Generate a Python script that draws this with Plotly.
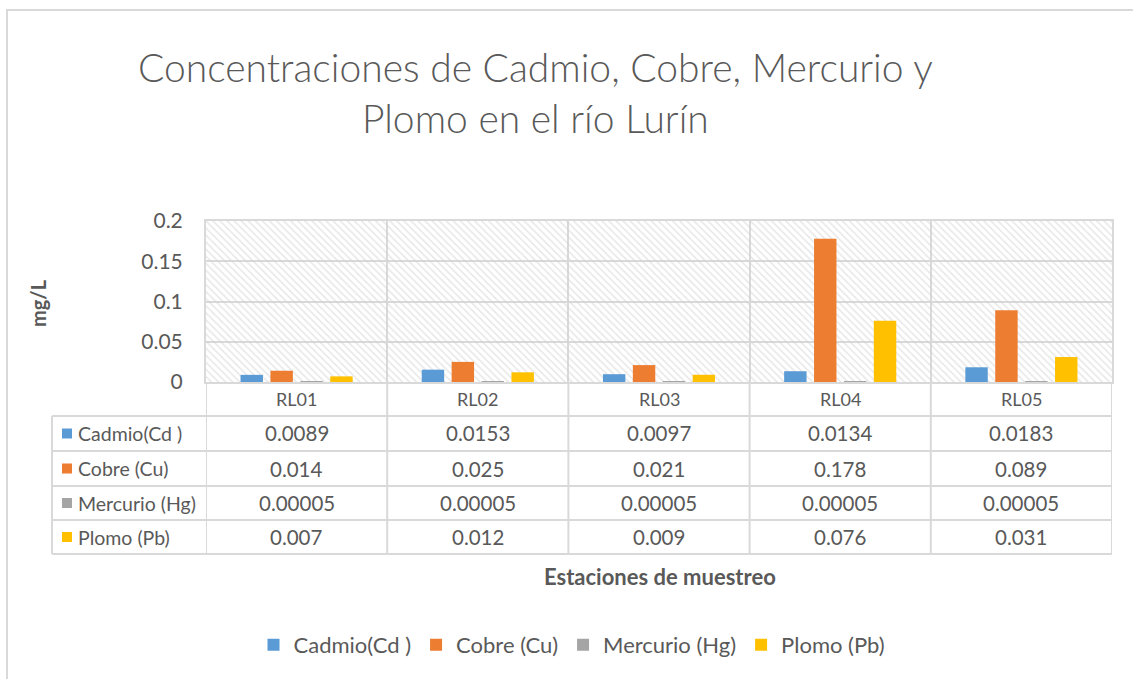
import plotly.graph_objects as go

# ---------------- data ----------------
stations = ["RL01", "RL02", "RL03", "RL04", "RL05"]
cadmio = [0.0089, 0.0153, 0.0097, 0.0134, 0.0183]
cobre = [0.014, 0.025, 0.021, 0.178, 0.089]
mercurio = [0.00005, 0.00005, 0.00005, 0.00005, 0.00005]
plomo = [0.007, 0.012, 0.009, 0.076, 0.031]
series_names = ["Cadmio(Cd )", "Cobre (Cu)", "Mercurio (Hg)", "Plomo (Pb)"]
series_values = [cadmio, cobre, mercurio, plomo]
y_ticks = [0, 0.05, 0.1, 0.15, 0.2]

title_text = "Concentraciones de Cadmio, Cobre, Mercurio y<br>Plomo en el río Lurín"
y_title = "mg/L"
x_title = "Estaciones de muestreo"

# ---------------- style ----------------
W, H = 1133, 679
colors = ["#5B9BD5", "#ED7D31", "#A5A5A5", "#FFC000"]
GRID = "#D9D9D9"
TXT = "#595959"
FONT = "Lato"


def px(x):
    return x / W


def py(y):
    return 1 - y / H


PLOT_L, PLOT_R, PLOT_T, PLOT_B = 206, 1112, 221, 382
TABLE_LEFT = 52
row_lines = [416, 451, 486, 520, 554]

fig = go.Figure()

# hatched plot background (decorative)
fig.add_trace(go.Bar(
    x=[len(stations) / 2], y=[max(y_ticks)], width=[len(stations)],
    xaxis="x", yaxis="y",
    marker=dict(color="rgba(0,0,0,0)", line=dict(width=0),
                pattern=dict(shape="\\", fgcolor="#CFCFCF", bgcolor="rgba(0,0,0,0)",
                             size=5, solidity=0.3, fillmode="overlay")),
    showlegend=False, hoverinfo="skip",
))

for name, vals, c in zip(series_names, series_values, colors):
    fig.add_trace(go.Bar(
        x=stations, y=vals, name=name, xaxis="x2", yaxis="y",
        marker=dict(color=c, line=dict(width=0)),
    ))

shapes = []
# outer chart border
shapes.append(dict(type="rect", xref="paper", yref="paper",
                   x0=px(7), x1=px(W + 20), y0=py(10), y1=py(H + 20),
                   line=dict(color=GRID, width=2), fillcolor="rgba(0,0,0,0)", layer="below"))
# table vertical lines (on category boundaries)
for i in range(len(stations) + 1):
    shapes.append(dict(type="line", xref="x", yref="paper", x0=i, x1=i,
                       y0=py(PLOT_B), y1=py(row_lines[-1]),
                       line=dict(color=GRID, width=2)))
shapes.append(dict(type="line", xref="paper", yref="paper", x0=px(TABLE_LEFT), x1=px(TABLE_LEFT),
                   y0=py(row_lines[0]), y1=py(row_lines[-1]), line=dict(color=GRID, width=2)))
# table horizontal lines
for yy in row_lines:
    shapes.append(dict(type="line", xref="paper", yref="paper", x0=px(TABLE_LEFT), x1=px(PLOT_R),
                       y0=py(yy), y1=py(yy), line=dict(color=GRID, width=2)))
# legend keys in table
for r, c in enumerate(colors):
    yc = (row_lines[r] + row_lines[r + 1]) / 2
    shapes.append(dict(type="rect", xref="paper", yref="paper",
                       x0=px(62), x1=px(72), y0=py(yc - 5), y1=py(yc + 5),
                       fillcolor=c, line=dict(width=0)))

annotations = []
annotations.append(dict(text=title_text, xref="paper", yref="paper", x=px(535), y=py(93),
                        xanchor="center", yanchor="middle", showarrow=False,
                        font=dict(family=FONT, size=39, color=TXT, weight=300)))
annotations.append(dict(text="<b>" + y_title + "</b>", xref="paper", yref="paper", x=px(38), y=py(303),
                        textangle=-90, xanchor="center", yanchor="middle", showarrow=False,
                        font=dict(family=FONT, size=20, color=TXT)))
annotations.append(dict(text="<b>" + x_title + "</b>", xref="paper", yref="paper", x=px(660), y=py(576),
                        xanchor="center", yanchor="middle", showarrow=False,
                        font=dict(family=FONT, size=22, color=TXT)))
# category header
for s in stations:
    annotations.append(dict(text=s, xref="x2", yref="paper", x=s, y=py((PLOT_B + row_lines[0]) / 2),
                            xanchor="center", yanchor="middle", showarrow=False,
                            font=dict(family=FONT, size=18, color=TXT)))


def fmt(v):
    return f"{v:.5f}".rstrip("0").rstrip(".")


for r, (name, vals) in enumerate(zip(series_names, series_values)):
    yc = (row_lines[r] + row_lines[r + 1]) / 2
    annotations.append(dict(text=name, xref="paper", yref="paper", x=px(76), y=py(yc),
                            xanchor="left", yanchor="middle", showarrow=False,
                            font=dict(family=FONT, size=19.5, color=TXT)))
    for s, v in zip(stations, vals):
        annotations.append(dict(text=fmt(v), xref="x2", yref="paper", x=s, y=py(yc),
                                xanchor="center", yanchor="middle", showarrow=False,
                                font=dict(family=FONT, size=20.5, color=TXT)))

fig.update_layout(
    width=W, height=H, autosize=False,
    margin=dict(l=0, r=0, t=0, b=0, pad=0, autoexpand=False),
    paper_bgcolor="white", plot_bgcolor="white",
    barmode="group", bargap=0.34, bargroupgap=0.25,
    font=dict(family=FONT, color=TXT),
    xaxis=dict(domain=[px(PLOT_L), px(PLOT_R)], range=[0, len(stations)],
               tickvals=list(range(len(stations) + 1)), showticklabels=False, ticks="",
               showgrid=True, gridcolor=GRID, gridwidth=2, zeroline=False,
               showline=True, mirror=True, linecolor=GRID, linewidth=2, fixedrange=True),
    xaxis2=dict(overlaying="x", type="category", range=[-0.5, len(stations) - 0.5],
                visible=False, fixedrange=True),
    yaxis=dict(domain=[py(PLOT_B), py(PLOT_T)], range=[0, max(y_ticks)], tickvals=y_ticks,
               showgrid=True, gridcolor=GRID, gridwidth=2, zeroline=False,
               showline=True, mirror=True, linecolor=GRID, linewidth=2,
               ticks="", ticklabelstandoff=17,
               tickfont=dict(family=FONT, size=21, color=TXT), fixedrange=True),
    legend=dict(orientation="h", x=px(572), xanchor="center", y=py(645), yanchor="middle",
                font=dict(family=FONT, size=22, color=TXT), traceorder="normal",
                bgcolor="rgba(0,0,0,0)"),
    shapes=shapes, annotations=annotations,
    showlegend=True,
)

fig.write_html("out.html", config={"displayModeBar": False},
               post_script="document.body.style.margin='0';")
